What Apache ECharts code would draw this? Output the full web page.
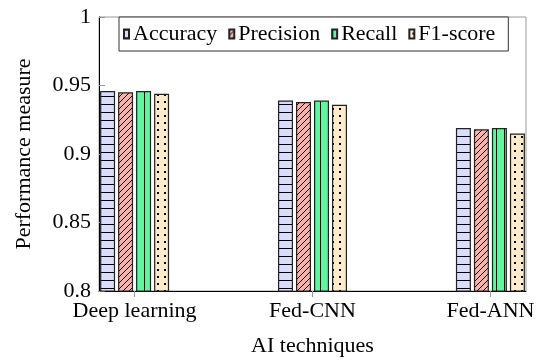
<!DOCTYPE html>
<html><head><meta charset="utf-8">
<script src="https://cdn.jsdelivr.net/npm/echarts@6/dist/echarts.min.js"></script>
<style>html,body{margin:0;padding:0;background:#fff}#c{width:539px;height:362px}</style>
</head><body><div id="c"></div>
<script>
const categories = ['Deep learning', 'Fed-CNN', 'Fed-ANN'];
const seriesNames = ['Accuracy', 'Precision', 'Recall', 'F1-score'];
const accuracy = [0.946, 0.939, 0.919];
const precision = [0.945, 0.938, 0.918];
const recall = [0.946, 0.939, 0.919];
const f1score = [0.944, 0.936, 0.915];
const yTicks = [0.8, 0.85, 0.9, 0.95, 1];

function pat(bg, w, h, draw) {
  const c = document.createElement('canvas');
  c.width = w; c.height = h;
  const g = c.getContext('2d');
  g.fillStyle = bg; g.fillRect(0, 0, w, h);
  g.fillStyle = '#000'; g.strokeStyle = '#000';
  draw(g, w, h);
  return { image: c, repeat: 'repeat' };
}
const pHoriz = pat('#dadcfb', 8, 8, (g) => { g.fillRect(0, 0, 8, 1); });
const pDiag = pat('#fbb0aa', 6, 6, (g) => {
  g.lineWidth = 1; g.beginPath();
  g.moveTo(0, 6); g.lineTo(6, 0);
  g.moveTo(-6, 6); g.lineTo(0, 0);
  g.moveTo(6, 6); g.lineTo(12, 0);
  g.stroke();
});
const pVert = pat('#60f6a0', 8, 8, (g) => { g.fillRect(0, 0, 1, 8); });
const pDots = pat('#fdebc9', 7, 7, (g) => { g.fillRect(3, 3, 2, 2); });
const fills = [pHoriz, pDiag, pVert, pDots];
const values = [accuracy, precision, recall, f1score];

const font = 'Liberation Serif';
const chart = echarts.init(document.getElementById('c'), null, { renderer: 'canvas' });
chart.setOption({
  animation: false,
  grid: { left: 99, right: 13, top: 17, bottom: 70, show: true, borderColor: '#999', borderWidth: 1, backgroundColor: 'transparent' },
  legend: {
    left: 119, top: 17, orient: 'horizontal',
    data: seriesNames,
    icon: 'rect', itemWidth: 5, itemHeight: 9, itemGap: 11,
    padding: [5, 13, 5, 4],
    borderColor: '#333', borderWidth: 1, backgroundColor: '#fff',
    textStyle: { fontFamily: font, fontSize: 22, color: '#000', padding: [0, 0, 0, -1], lineHeight: 24 }
  },
  xAxis: {
    type: 'value', min: -0.2, max: 2.2,
    name: 'AI techniques', nameLocation: 'middle', nameGap: 44,
    nameTextStyle: { fontFamily: font, fontSize: 22, color: '#000' },
    splitLine: { show: false },
    axisLine: { show: true, onZero: false, lineStyle: { color: '#000', width: 1 } },
    axisTick: { show: true, inside: false, length: 6, customValues: [0, 1, 2], lineStyle: { color: '#999' } },
    axisLabel: { customValues: [0, 1, 2], margin: 9, fontFamily: font, fontSize: 22, color: '#000',
      formatter: (v) => categories[Math.round(v)] }
  },
  yAxis: {
    type: 'value', min: 0.8, max: 1, interval: 0.05,
    name: 'Performance measure', nameLocation: 'middle', nameGap: 64, nameRotate: 90,
    nameTextStyle: { fontFamily: font, fontSize: 22, color: '#000' },
    splitLine: { show: false },
    axisLine: { show: true, onZero: false, lineStyle: { color: '#000', width: 1 } },
    axisTick: { show: true, inside: true, length: 6, lineStyle: { color: '#999' } },
    axisLabel: { margin: 8, fontFamily: font, fontSize: 22, color: '#000',
      formatter: (v) => String(+v.toFixed(2)) }
  },
  series: seriesNames.map((n, i) => ({
    name: n, type: 'bar', barWidth: 15, barGap: '20%',
    data: categories.map((c, j) => [j, values[i][j]]),
    itemStyle: { color: fills[i], borderColor: '#222', borderWidth: 1.2 }
  }))
});
</script></body></html>
